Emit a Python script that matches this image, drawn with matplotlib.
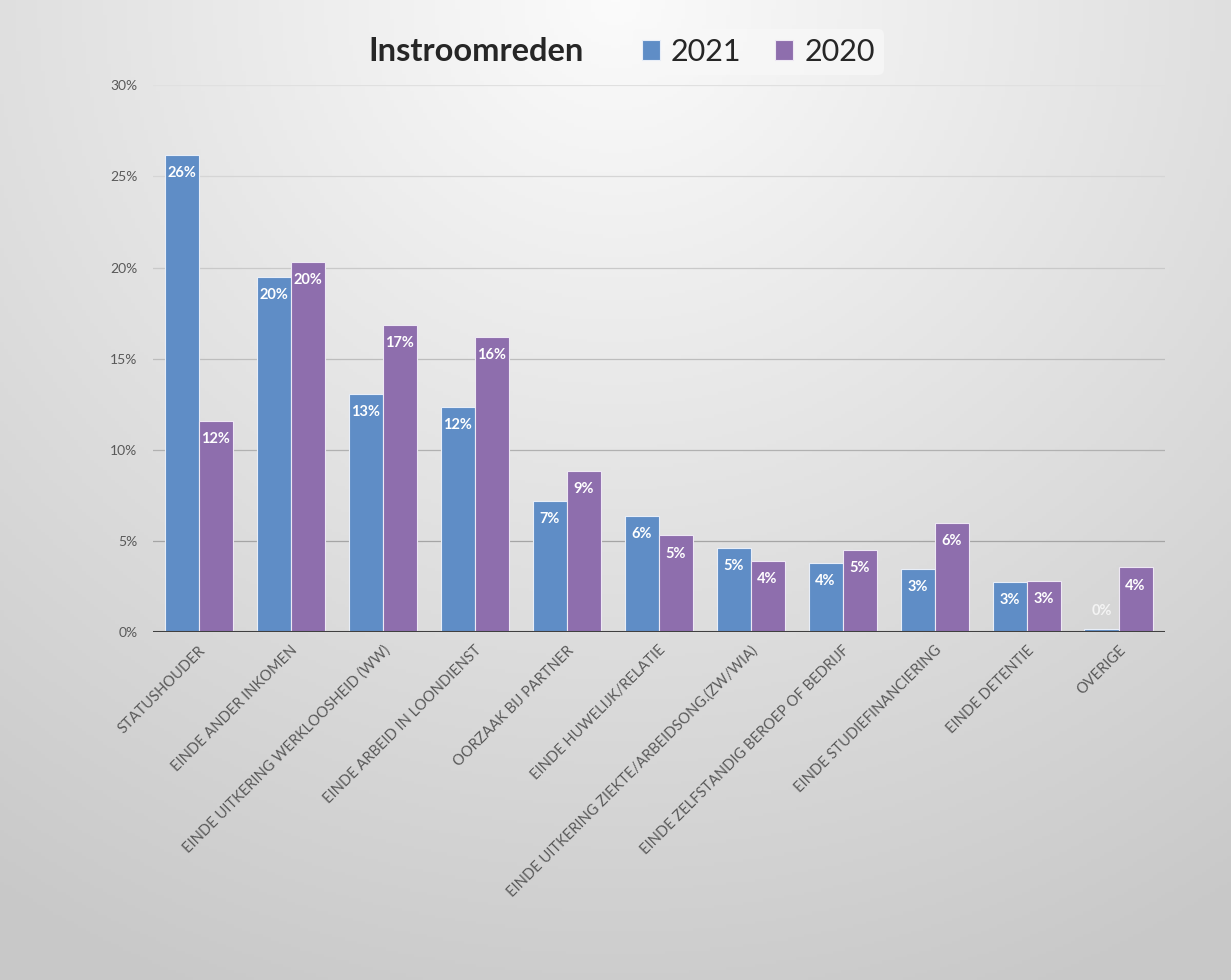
import matplotlib.pyplot as plt
import numpy as np

plt.rcParams['font.family'] = ['Lato', 'DejaVu Sans']

categories = [
    "STATUSHOUDER",
    "EINDE ANDER INKOMEN",
    "EINDE UITKERING WERKLOOSHEID (WW)",
    "EINDE ARBEID IN LOONDIENST",
    "OORZAAK BIJ PARTNER",
    "EINDE HUWELIJK/RELATIE",
    "EINDE UITKERING ZIEKTE/ARBEIDSONG.(ZW/WIA)",
    "EINDE ZELFSTANDIG BEROEP OF BEDRIJF",
    "EINDE STUDIEFINANCIERING",
    "EINDE DETENTIE",
    "OVERIGE",
]
# percentages
values_2021 = [26.2, 19.5, 13.05, 12.35, 7.2, 6.35, 4.6, 3.8, 3.45, 2.75, 0.15]
values_2020 = [11.6, 20.3, 16.85, 16.2, 8.85, 5.3, 3.9, 4.5, 6.0, 2.8, 3.55]
yticks = [0, 5, 10, 15, 20, 25, 30]

blue = "#5F8DC6"
purple = "#8E6EAD"

fig = plt.figure(figsize=(12.31, 9.8), dpi=100)

# background gradient (light at top centre, grey towards the bottom/edges)
bg = fig.add_axes([0, 0, 1, 1], zorder=-10)
gx, gy = np.meshgrid(np.linspace(-1, 1, 300), np.linspace(0, 1, 300))
r = np.clip(np.sqrt((gx * 0.6) ** 2 + gy ** 2) / 1.1, 0, 1)
shade = 0.985 - 0.20 * r
bg.imshow(np.dstack([shade] * 3), extent=[0, 1, 0, 1], aspect='auto', origin='upper')
bg.set_axis_off()

ax = fig.add_axes([0.124, 0.355, 0.822, 0.558])
ax.patch.set_alpha(0)

x = np.arange(len(categories))
w = 0.37
b1 = ax.bar(x - w / 2, values_2021, w, color=blue, edgecolor="#e8eef8", linewidth=0.8,
            label="2021", zorder=3)
b2 = ax.bar(x + w / 2, values_2020, w, color=purple, edgecolor="#eee8f4", linewidth=0.8,
            label="2020", zorder=3)

for bars, vals in ((b1, values_2021), (b2, values_2020)):
    for bar, v in zip(bars, vals):
        cx = bar.get_x() + bar.get_width() / 2
        txt = f"{int(v + 0.5)}%"
        if v < 1:
            ax.annotate(txt, (cx, v), xytext=(0, 8), textcoords="offset points",
                        ha="center", va="bottom", color="#f4f4f4", fontsize=10.5,
                        fontweight="bold", zorder=4)
        else:
            ax.annotate(txt, (cx, v), xytext=(0, -8), textcoords="offset points",
                        ha="center", va="top", color="white", fontsize=10.5,
                        fontweight="bold", zorder=4)

ax.set_xlim(-0.5, len(categories) - 0.5)
ax.set_ylim(0, 30)
ax.set_yticks(yticks)
ax.set_yticklabels([f"{t}%" for t in yticks], color="#595959", fontsize=10)

# gridlines, fading towards the top
for t in yticks[1:]:
    c = 0.60 + 0.28 * (t / 30)
    ax.axhline(t, color=(c, c, c), linewidth=0.9, zorder=1)
ax.axhline(0, color="#404040", linewidth=2.2, zorder=5)

ax.set_xticks(x)
ax.set_xticklabels(categories, rotation=45, ha="right", rotation_mode="anchor",
                   color="#595959", fontsize=10.5)
ax.tick_params(axis="both", length=0)
ax.tick_params(axis="y", pad=11)
ax.tick_params(axis="x", pad=8)
for s in ax.spines.values():
    s.set_visible(False)

fig.text(0.387, 0.947, "Instroomreden", ha="center", va="center", fontsize=23.5,
         fontweight="bold", color="#262626")
leg = fig.legend(handles=[b1, b2], labels=["2021", "2020"], loc="center",
                 bbox_to_anchor=(0.616, 0.947), ncol=2, frameon=True, fontsize=22,
                 handlelength=0.6, handleheight=0.6, handletextpad=0.35,
                 columnspacing=1.1, borderpad=0.3)
leg.get_frame().set_facecolor("#f8f8f8")
leg.get_frame().set_edgecolor("none")
leg.get_frame().set_alpha(0.7)
for t in leg.get_texts():
    t.set_color("#262626")

fig.savefig("out.png", dpi=100)
